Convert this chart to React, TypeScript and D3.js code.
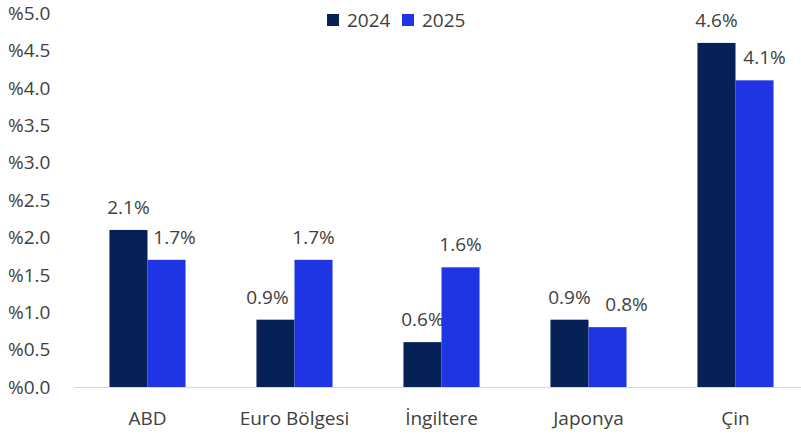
import React from "react";
import * as d3 from "d3";

const categories = ["ABD", "Euro Bölgesi", "İngiltere", "Japonya", "Çin"];
const seriesNames = ["2024", "2025"];
const values2024 = [2.1, 0.9, 0.6, 0.9, 4.6];
const values2025 = [1.7, 1.7, 1.6, 0.8, 4.1];
const yTicks = [0, 0.5, 1.0, 1.5, 2.0, 2.5, 3.0, 3.5, 4.0, 4.5, 5.0];
// manual label nudges (px) as in the original
const labelNudge2024 = [0, -8, 0, 0, 0];
const labelNudge2025 = [8, 0, 0, 19, 10];

const colors = ["#052155", "#1f35e3"];
const textColor = "#404040";
const font = "'Open Sans', 'Noto Sans', sans-serif";
const fs = 19;

export default function App() {
  const W = 801, H = 437;
  const x0 = d3.scaleBand<string>().domain(categories).range([74, 809]).paddingInner(0.4824).paddingOuter(0.2412);
  const x1 = d3.scaleBand<string>().domain(seriesNames).range([0, x0.bandwidth()]);
  const y = d3.scaleLinear().domain([0, 5]).range([387, 13]);
  const series = [values2024, values2025];
  const nudges = [labelNudge2024, labelNudge2025];

  return (
    <svg width={W} height={H} style={{ position: "absolute", left: 0, top: 0, background: "#fff" }} fontFamily={font}>
      {yTicks.map((t) => (
        <text key={t} x={8} y={y(t)} dy="0.36em" fontSize={fs} fill={textColor}>
          {"%" + t.toFixed(1)}
        </text>
      ))}
      {categories.map((c, i) => (
        <g key={c}>
          {seriesNames.map((s, j) => {
            const v = series[j][i];
            const bx = (x0(c) as number) + (x1(s) as number);
            const bw = x1.bandwidth();
            return (
              <g key={s}>
                <rect x={bx} y={y(v)} width={bw} height={y(0) - y(v)} fill={colors[j]} />
                <text x={bx + bw / 2 + nudges[j][i]} y={y(v) - 16} textAnchor="middle" fontSize={fs} fill={textColor}>
                  {v.toFixed(1) + "%"}
                </text>
              </g>
            );
          })}
          <text x={(x0(c) as number) + x0.bandwidth() / 2} y={425} textAnchor="middle" fontSize={fs} fill={textColor}>
            {c}
          </text>
        </g>
      ))}
      <line x1={74} x2={W} y1={y(0) + 0.5} y2={y(0) + 0.5} stroke="#d9d9d9" strokeWidth={1} />
      {seriesNames.map((s, j) => (
        <g key={s} transform={`translate(${327 + j * 75},0)`}>
          <rect x={0} y={14} width={12} height={12} fill={colors[j]} />
          <text x={20} y={27} fontSize={fs} fill={textColor}>{s}</text>
        </g>
      ))}
    </svg>
  );
}
